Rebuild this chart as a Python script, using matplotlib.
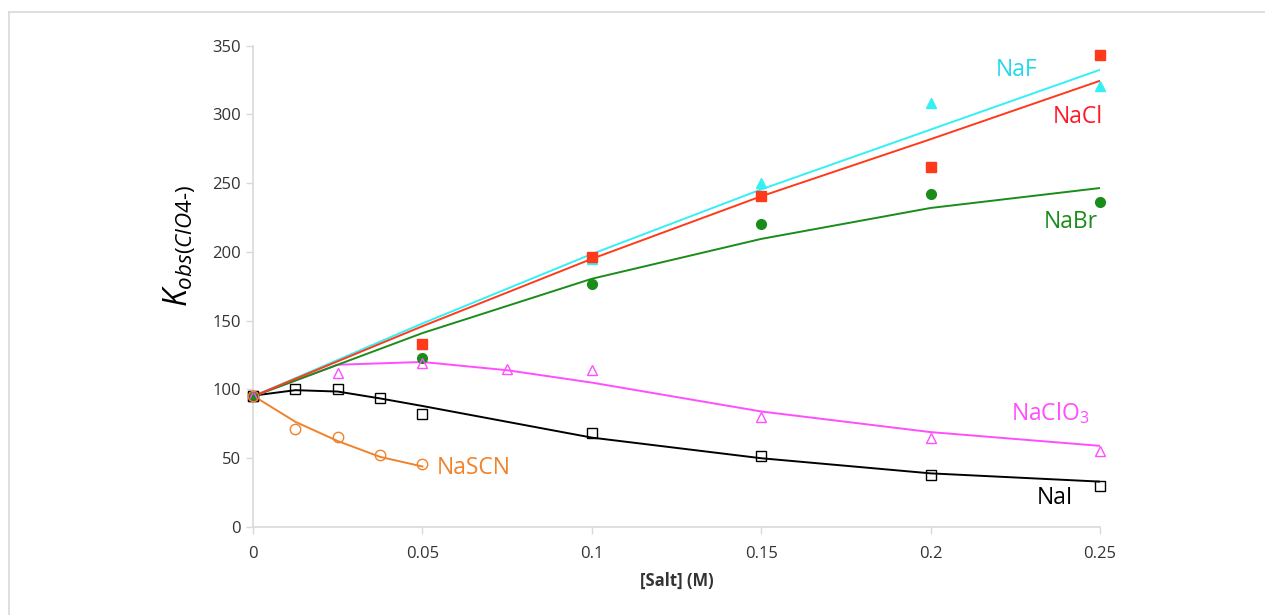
import matplotlib
matplotlib.use("Agg")
import matplotlib.pyplot as plt
from matplotlib.lines import Line2D

plt.rcParams["font.family"] = ["Open Sans", "DejaVu Sans"]
plt.rcParams["mathtext.fontset"] = "custom"
plt.rcParams["mathtext.it"] = "Open Sans:italic"
plt.rcParams["mathtext.rm"] = "Open Sans"

# salt concentrations (M)
x_main = [0, 0.05, 0.1, 0.15, 0.2, 0.25]
x_clo3 = [0, 0.025, 0.05, 0.075, 0.1, 0.15, 0.2, 0.25]
x_nai = [0, 0.0125, 0.025, 0.0375, 0.05, 0.1, 0.15, 0.2, 0.25]
x_scn = [0, 0.0125, 0.025, 0.0375, 0.05]

# measured points
naf_pts = [95, 133, 195, 250, 308, 321]
nacl_pts = [95, 133, 196, 241, 262, 343]
nabr_pts = [95, 123, 177, 220, 242, 236]
naclo3_pts = [95, 112, 119, 115, 114.5, 80, 65, 55]
nai_pts = [95.5, 100, 100, 94, 82, 68, 51.5, 37.5, 30]
nascn_pts = [95.5, 71, 65.5, 52, 46]

# fitted curves
naf_fit = [95, 148, 198.5, 245.5, 289, 332.5]
nacl_fit = [95, 146, 195, 240.5, 282, 324.5]
nabr_fit = [95, 141, 180.5, 209.5, 232, 246.5]
naclo3_fit = [95, 118, 120, 114, 105, 84, 69, 59]
nai_fit = [95.5, 99.5, 98.5, 93.5, 88, 65, 50, 39, 33]
nascn_fit = [95.5, 76.5, 62.5, 51, 44]

fig = plt.figure(figsize=(12.65, 6.15), dpi=100)
ax = fig.add_axes([0.2, 0.1431, 0.6696, 0.7826])

c_naf, c_nacl, c_nabr = "#33f0f5", "#ff3a1a", "#1a8c1a"
c_clo3, c_nai, c_scn = "#ff4dff", "#000000", "#f0822a"

series = [
    (x_main, nacl_pts, nacl_fit, c_nacl, "s", c_nacl, 7),
    (x_main, naf_pts, naf_fit, c_naf, "^", c_naf, 7),
    (x_main, nabr_pts, nabr_fit, c_nabr, "o", c_nabr, 7),
    (x_clo3, naclo3_pts, naclo3_fit, c_clo3, "^", "none", 7),
    (x_nai, nai_pts, nai_fit, c_nai, "s", "none", 7),
    (x_scn, nascn_pts, nascn_fit, c_scn, "o", "none", 7.5),
]
for i, (xs, pts, fit, col, mk, fc, ms) in enumerate(series):
    ax.plot(xs, fit, color=col, lw=1.4, zorder=2 + 0.01 * (6 - i))
    # NaCl squares sit on top of the NaF triangles except at the origin
    z = 3.5 if i == 0 else 3
    ax.plot(xs[1:], pts[1:], ls="none", marker=mk, ms=ms, mfc=fc, mec=col,
            mew=1.0, zorder=z, clip_on=False)
    ax.plot(xs[:1], pts[:1], ls="none", marker=mk, ms=ms, mfc=fc, mec=col,
            mew=1.0, zorder=3.6 + 0.01 * i, clip_on=False)

label_font = dict(fontsize=16.5, ha="center", va="center")
ax.text(0.2255, 332, "NaF", color="#22d8ee", **label_font)
ax.text(0.2435, 298.5, "NaCl", color="#ff1a2a", **label_font)
ax.text(0.2414, 221.5, "NaBr", color=c_nabr, **label_font)
ax.text(0.2352, 83, r"NaClO$_\mathregular{3}$", color=c_clo3, **label_font)
ax.text(0.2367, 21, "NaI", color=c_nai, **label_font)
ax.text(0.0652, 43, "NaSCN", color=c_scn, **label_font)

ax.set_xlim(0, 0.25)
ax.set_ylim(0, 350)
ax.set_xticks([0, 0.05, 0.1, 0.15, 0.2, 0.25])
ax.set_xticklabels(["0", "0.05", "0.1", "0.15", "0.2", "0.25"])
ax.set_yticks(range(0, 351, 50))
for s in ("top", "right"):
    ax.spines[s].set_visible(False)
for s in ("left", "bottom"):
    ax.spines[s].set_color("#d9d9d9")
    ax.spines[s].set_linewidth(1.2)
ax.tick_params(colors="#d9d9d9", labelcolor="#333333", labelsize=12, length=5, width=1)
ax.tick_params(axis="x", pad=9)

ax.set_xlabel("[Salt] (M)", fontsize=12, fontweight="bold", color="#333333", labelpad=7)
ax.set_ylabel(r"$\mathit{K}_{\mathit{obs(ClO4\text{-})}}$", fontsize=23, color="black")
ax.yaxis.set_label_coords(-0.066, 0.585)

# thin gray frame of the original export
fig.add_artist(Line2D([9 / 1265, 1], [1 - 12 / 615] * 2, color="#d9d9d9", lw=1.2))
fig.add_artist(Line2D([9 / 1265] * 2, [0, 1 - 12 / 615], color="#d9d9d9", lw=1.2))

fig.savefig("out.png", dpi=100)
